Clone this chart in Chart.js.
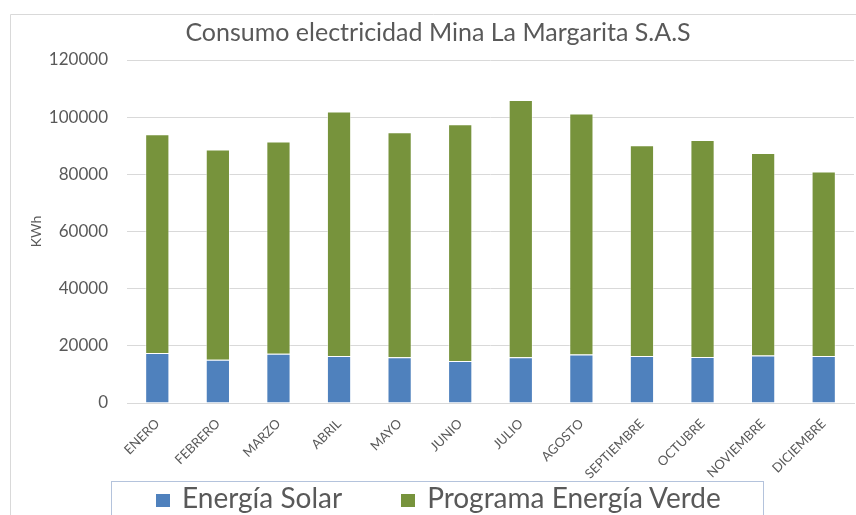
<!DOCTYPE html>
<html>
<head>
<meta charset="utf-8">
<script src="https://cdn.jsdelivr.net/npm/chart.js@4/dist/chart.umd.min.js"></script>
<style>
  body { margin: 0; background: #fff; }
  #wrap { position: relative; width: 856px; height: 515px; }
  #legend {
    position: absolute; left: 111px; top: 481px; width: 653px; height: 40px;
    border: 1px solid #b4c3dc; box-sizing: border-box;
    font-family: Lato, sans-serif; font-size: 28px; color: #595959;
    text-align: left; line-height: 28px; padding-left: 44px; padding-top: 1px; white-space: nowrap;
  }
  #legend span.item { margin-right: 59px; }
  #legend span.box { display: inline-block; width: 14px; height: 13px; margin-right: 12px; vertical-align: 1px; }
</style>
</head>
<body>
<div id="wrap">
  <canvas id="myChart" width="856" height="515"></canvas>
  <div id="legend"></div>
</div>
<script>
const months = ['ENERO', 'FEBRERO', 'MARZO', 'ABRIL', 'MAYO', 'JUNIO', 'JULIO', 'AGOSTO', 'SEPTIEMBRE', 'OCTUBRE', 'NOVIEMBRE', 'DICIEMBRE']
const solar = [17500, 15100, 17200, 16400, 16000, 14700, 16000, 17000, 16400, 16100, 16600, 16400]
const verde = [76500, 73600, 74300, 85600, 78700, 82800, 90000, 84300, 73800, 75900, 70900, 64600]
const seriesNames = ['Energía Solar', 'Programa Energía Verde']
const seriesColors = ['#4f81bd', '#77933c']

const grey = '#595959'
const font = 'Lato, sans-serif'

// thin grey frame of the chart object, cut off at right and bottom
let frame = {
  id: 'frame',
  afterDraw(chart) {
    let ctx = chart.ctx
    ctx.save()
    ctx.strokeStyle = '#d9d9d9'
    ctx.lineWidth = 1
    ctx.beginPath()
    ctx.moveTo(10.5, chart.height)
    ctx.lineTo(10.5, 14.5)
    ctx.lineTo(chart.width, 14.5)
    ctx.stroke()
    ctx.restore()
  }
}

let ctx = document.getElementById('myChart')
let chart = new Chart(ctx, {
  type: 'bar',
  data: {
    labels: months,
    datasets: [
      { label: seriesNames[0], data: solar, backgroundColor: seriesColors[0], borderColor: 'rgba(255,255,255,0.5)', borderWidth: 1 },
      { label: seriesNames[1], data: verde, backgroundColor: seriesColors[1], borderColor: 'rgba(255,255,255,0.5)', borderWidth: 1 }
    ]
  },
  options: {
    responsive: false,
    animation: false,
    layout: { padding: { left: 22, top: 14, right: 2, bottom: 0 } },
    datasets: { bar: { barPercentage: 0.4, categoryPercentage: 1 } },
    plugins: {
      legend: { display: false },
      tooltip: { enabled: false },
      title: {
        display: true,
        text: 'Consumo electricidad Mina La Margarita S.A.S',
        color: grey,
        font: { family: font, size: 25, weight: 'normal' },
        padding: { top: 4, bottom: 12 }
      }
    },
    scales: {
      x: {
        stacked: true,
        grid: { display: false, drawTicks: false },
        border: { color: '#d9d9d9' },
        ticks: { color: grey, font: { family: font, size: 13 }, minRotation: 45, maxRotation: 45, padding: 13 },
        afterFit: (s) => { s.height = 112 }
      },
      y: {
        stacked: true,
        min: 0,
        max: 120000,
        grid: { color: '#d9d9d9', drawTicks: false },
        border: { display: false },
        ticks: { stepSize: 20000, color: grey, font: { family: font, size: 17 }, padding: 19, callback: (v) => String(v) },
        title: { display: true, text: 'KWh', color: grey, font: { family: font, size: 14 }, padding: { top: 6, bottom: 0 } },
        afterFit: (s) => { s.width = 105 }
      }
    }
  },
  plugins: [frame]
})

// legend drawn as html inside a bordered box, as in the original
let lg = document.getElementById('legend')
chart.data.datasets.forEach((ds) => {
  let item = document.createElement('span')
  item.className = 'item'
  let box = document.createElement('span')
  box.className = 'box'
  box.style.background = ds.backgroundColor
  item.appendChild(box)
  item.appendChild(document.createTextNode(ds.label))
  lg.appendChild(item)
})
</script>
</body>
</html>
